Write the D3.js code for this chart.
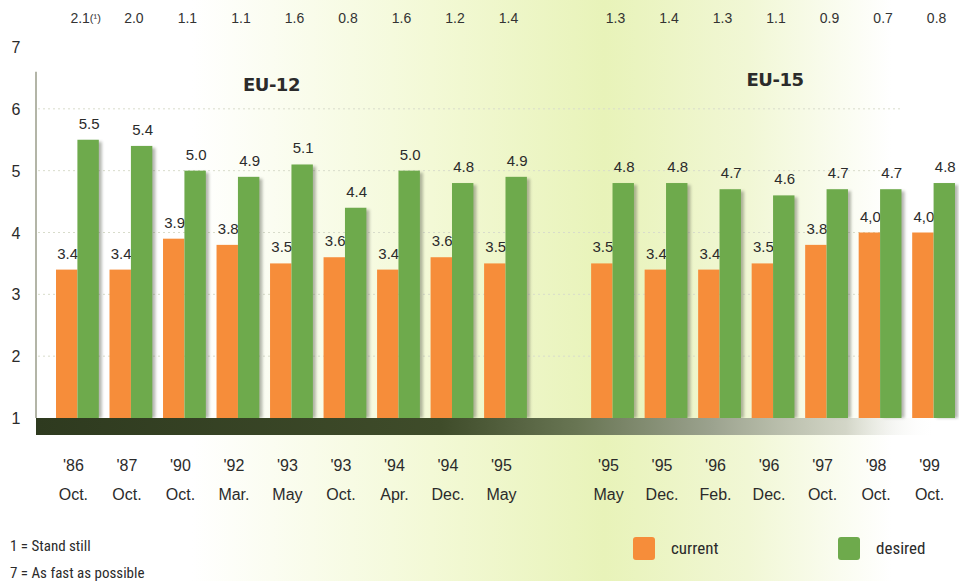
<!DOCTYPE html>
<meta charset="utf-8">
<style>
  body { margin: 0; background: #fff; }
  svg text { fill: #2b2b2b; }
</style>
<script src="https://d3js.org/d3.v7.min.js"></script>
<div id="chart"></div>
<script>
// survey waves (EU-12 first, then EU-15)
var years  = ["'86", "'87", "'90", "'92", "'93", "'93", "'94", "'94", "'95",
              "'95", "'95", "'96", "'96", "'97", "'98", "'99"];
var months = ["Oct.", "Oct.", "Oct.", "Mar.", "May", "Oct.", "Apr.", "Dec.", "May",
              "May", "Dec.", "Feb.", "Dec.", "Oct.", "Oct.", "Oct."];
var groupOf = ["EU-12", "EU-12", "EU-12", "EU-12", "EU-12", "EU-12", "EU-12", "EU-12", "EU-12",
               "EU-15", "EU-15", "EU-15", "EU-15", "EU-15", "EU-15", "EU-15"];
var current = [3.4, 3.4, 3.9, 3.8, 3.5, 3.6, 3.4, 3.6, 3.5,
               3.5, 3.4, 3.4, 3.5, 3.8, 4.0, 4.0];
var desired = [5.5, 5.4, 5.0, 4.9, 5.1, 4.4, 5.0, 4.8, 4.9,
               4.8, 4.8, 4.7, 4.6, 4.7, 4.7, 4.8];
// labels as printed (the source uses a comma for two values)
var currentText = ["3.4", "3.4", "3.9", "3.8", "3.5", "3.6", "3.4", "3.6", "3.5",
                   "3.5", "3.4", "3.4", "3.5", "3.8", "4,0", "4,0"];
var desiredText = ["5.5", "5.4", "5.0", "4.9", "5.1", "4.4", "5.0", "4.8", "4.9",
                   "4.8", "4.8", "4.7", "4.6", "4.7", "4.7", "4.8"];
// gap between desired and current, shown along the top
var gapText = ["2.1", "2.0", "1.1", "1.1", "1.6", "0.8", "1.6", "1.2", "1.4",
               "1.3", "1.4", "1.3", "1.1", "0.9", "0.7", "0.8"];
var groups = ["EU-12", "EU-15"];
var yTicks = [1, 2, 3, 4, 5, 6, 7];
var series = ["current", "desired"];
var colors = { current: "#f68d3a", desired: "#6eaa4c" };

var W = 959, H = 581;

var svg = d3.select("#chart").append("svg")
    .attr("width", W).attr("height", H)
    .style("font-family", "'Liberation Sans', Arial, sans-serif");

var defs = svg.append("defs");

// pale lime wash across the page
var bg = defs.append("linearGradient").attr("id", "bg");
[[0, "#ffffff"], [0.2, "#ffffff"], [0.45, "#f3f9d6"], [0.63, "#e8f3b9"],
 [0.78, "#f1f7d5"], [0.93, "#ffffff"], [1, "#ffffff"]].forEach(function (s) {
  bg.append("stop").attr("offset", s[0]).attr("stop-color", s[1]);
});
svg.append("rect").attr("width", W).attr("height", H).attr("fill", "url(#bg)");

// dark base band that fades out to the right
var base = defs.append("linearGradient").attr("id", "base");
[[0, "#2e3a1f", 1], [0.45, "#3f4c2a", 1], [0.6, "#687553", 1], [0.75, "#9ba28e", 1],
 [0.9, "#c9ccbd", 0.8], [1, "#ffffff", 0]].forEach(function (s) {
  base.append("stop").attr("offset", s[0]).attr("stop-color", s[1]).attr("stop-opacity", s[2]);
});

defs.append("filter").attr("id", "blur").attr("x", "-50%").attr("width", "200%")
  .append("feGaussianBlur").attr("stdDeviation", 1.6);

// scales: one empty slot separates EU-12 from EU-15
var slots = d3.range(years.length + 1);
function slotOf(i) { return groupOf[i] === "EU-12" ? i : i + 1; }

var x = d3.scaleBand().domain(slots).range([56, 955]).paddingInner(0.2).paddingOuter(0);
var xs = d3.scaleBand().domain(series).range([0, x.bandwidth()]);
var y = d3.scaleLinear().domain([1, 7]).range([418, 47]);

// gridlines and left axis line
svg.append("g").selectAll("line").data(yTicks.filter(function (t) { return t > 1 && t < 7; }))
  .join("line")
  .attr("x1", 38).attr("x2", 900)
  .attr("y1", function (d) { return y(d); }).attr("y2", function (d) { return y(d); })
  .attr("stroke", "#d8dccb").attr("stroke-width", 1).attr("stroke-dasharray", "2,3");

svg.append("line").attr("x1", 36).attr("x2", 36).attr("y1", y(6.6)).attr("y2", y(1))
  .attr("stroke", "#9a9d8a").attr("stroke-width", 1.5);

// y tick labels
svg.append("g").selectAll("text").data(yTicks).join("text")
  .attr("x", 16).attr("y", function (d) { return y(d) + 6; })
  .attr("text-anchor", "middle").attr("font-size", 16)
  .text(function (d) { return d; });

// bars
var idx = d3.range(years.length);
var bars = svg.append("g");
idx.forEach(function (i) {
  var x0 = x(slotOf(i));
  [["current", current[i], currentText[i]], ["desired", desired[i], desiredText[i]]].forEach(function (b) {
    var bx = x0 + xs(b[0]), bw = xs.bandwidth();
    if (b[0] === "desired") {
      bars.append("rect")
        .attr("x", bx + 3).attr("y", y(b[1]) + 2)
        .attr("width", bw).attr("height", y(1) - y(b[1]) - 2)
        .attr("fill", "#5a5f50").attr("opacity", 0.45)
        .attr("filter", "url(#blur)");
    }
    bars.append("rect")
      .attr("x", bx).attr("y", y(b[1]))
      .attr("width", bw).attr("height", y(1) - y(b[1]))
      .attr("fill", colors[b[0]]);
    bars.append("text")
      .attr("x", bx + bw / 2 + 1).attr("y", y(b[1]) - 11)
      .attr("text-anchor", "middle").attr("font-size", 15)
      .text(b[2]);
  });
});

// base band
svg.append("rect").attr("x", 36).attr("y", y(1)).attr("width", 900).attr("height", 17)
  .attr("fill", "url(#base)");

// gaps along the top
var topRow = svg.append("g").attr("font-size", 14);
idx.forEach(function (i) {
  var cx = x(slotOf(i)) + x.bandwidth() / 2 + 3;
  var t = topRow.append("text").attr("y", 23).style("fill", "#333");
  if (i === 0) {
    t.attr("x", cx - 10).attr("text-anchor", "start").text(gapText[i]);
    t.append("tspan").attr("font-size", 11).attr("dy", -1).text("(¹)");
  } else {
    t.attr("x", cx).attr("text-anchor", "middle").text(gapText[i]);
  }
});

// group titles
var titleShift = { "EU-12": -20, "EU-15": 2 };
svg.append("g").selectAll("text").data(groups).join("text")
  .attr("x", function (g) {
    var c = idx.filter(function (i) { return groupOf[i] === g; })
      .map(function (i) { return x(slotOf(i)) + x.bandwidth() / 2; });
    return d3.mean(c) + titleShift[g];
  })
  .attr("y", function (g) { return g === "EU-12" ? 91 : 86; })
  .attr("text-anchor", "middle").attr("font-size", 18).attr("font-weight", "bold")
  .attr("font-family", "'DejaVu Sans', sans-serif").attr("letter-spacing", -0.5)
  .text(function (g) { return g; });

// category labels
var xl = svg.append("g").attr("font-size", 16).attr("text-anchor", "middle");
idx.forEach(function (i) {
  var cx = x(slotOf(i)) + x.bandwidth() / 2 - 4;
  xl.append("text").attr("x", cx).attr("y", 471).text(years[i]);
  xl.append("text").attr("x", cx).attr("y", 500).text(months[i]);
});

// footnote
var narrow = "'Liberation Sans Narrow', 'Roboto Condensed', Arial, sans-serif";
svg.append("text").attr("x", 10).attr("y", 551).attr("font-size", 15)
  .attr("font-family", narrow).text("1 = Stand still");
svg.append("text").attr("x", 10).attr("y", 578).attr("font-size", 15)
  .attr("font-family", narrow).text("7 = As fast as possible");

// legend
var legend = svg.append("g").selectAll("g").data(series).join("g")
  .attr("transform", function (d, i) { return "translate(" + (633 + i * 205) + ",537)"; });
legend.append("rect").attr("width", 22).attr("height", 23).attr("rx", 3)
  .attr("fill", function (d) { return colors[d]; });
legend.append("text").attr("x", 38).attr("y", 17).attr("font-size", 17)
  .attr("font-family", narrow).text(function (d) { return d; });
</script>
